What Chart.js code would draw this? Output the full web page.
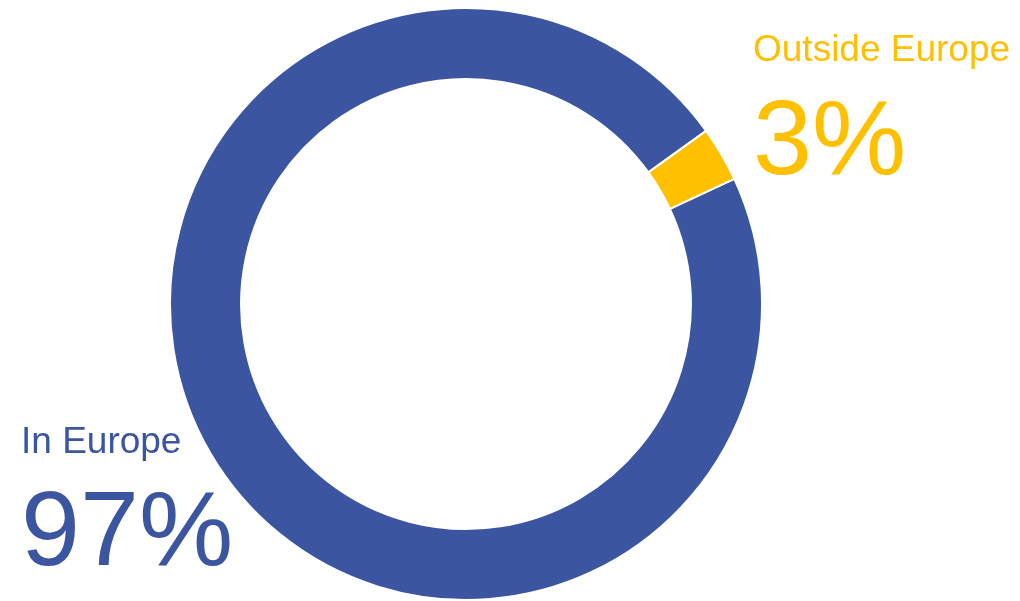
<!DOCTYPE html>
<html>
<head>
<meta charset="utf-8">
<script src="https://cdn.jsdelivr.net/npm/chart.js@4/dist/chart.umd.min.js"></script>
<style>
  html, body { margin: 0; padding: 0; background: #fff; }
  #wrap { width: 1020px; height: 601px; position: relative; }
</style>
</head>
<body>
<div id="wrap"><canvas id="donut" width="1020" height="601"></canvas></div>
<script>
// data
var regions = ["In Europe", "Outside Europe"];
var shares = [97, 3];
var colours = ["#3B55A0", "#FFC000"];

// where each label block goes (x, baseline of name, baseline of percent)
var labelSpots = [
	{ x: 21, nameY: 453, pctY: 565 },
	{ x: 753, nameY: 61, pctY: 174 }
];

var labelPlugin = {
	id: "regionLabels",
	afterDraw: function(chart) {
		var c = chart.ctx;
		c.save();
		c.textAlign = "left";
		c.textBaseline = "alphabetic";
		for (var i = 0; i < regions.length; i++) {
			var spot = labelSpots[i];
			c.fillStyle = colours[i];
			c.font = "37px 'Liberation Sans', Arial, sans-serif";
			c.fillText(regions[i], spot.x, spot.nameY);
			c.font = "106px 'Liberation Sans', Arial, sans-serif";
			c.fillText(shares[i] + "%", spot.x, spot.pctY);
		}
		c.restore();
	}
};

var ctx = document.getElementById("donut");

var chart = new Chart(ctx, {
	type: "doughnut",
	data: {
		labels: regions,
		datasets: [{
			data: shares,
			backgroundColor: colours,
			borderColor: "#ffffff",
			borderWidth: 2,
			hoverOffset: 0
		}]
	},
	options: {
		responsive: false,
		animation: false,
		rotation: 65,
		cutout: "76%",
		layout: {
			padding: { left: 169, right: 257, top: 7, bottom: 0 }
		},
		plugins: {
			legend: { display: false },
			tooltip: { enabled: false }
		}
	},
	plugins: [labelPlugin]
});
</script>
</body>
</html>
